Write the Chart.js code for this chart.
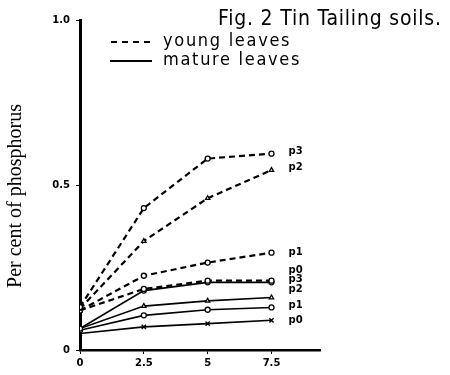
<!DOCTYPE html>
<html><head><meta charset="utf-8">
<script src="https://cdn.jsdelivr.net/npm/chart.js@4"></script>
<style>html,body{margin:0;padding:0;background:#fff}#wrap{width:450px;height:375px}</style>
</head><body><div id="wrap"><canvas id="c" width="450" height="375"></canvas></div>
<script>
const xValues = [0, 2.5, 5, 7.5];
const xTickLabels = ['0', '2.5', '5', '7.5'];
const yTickValues = [0, 0.5, 1.0];
const yTickLabels = ['0', '0.5', '1.0'];
const youngP3 = [0.13, 0.43, 0.58, 0.595];
const youngP2 = [0.125, 0.33, 0.46, 0.545];
const youngP1 = [0.12, 0.225, 0.265, 0.295];
const youngP0 = [0.12, 0.185, 0.21, 0.21];
const matureP3 = [0.065, 0.18, 0.205, 0.205];
const matureP2 = [0.065, 0.133, 0.149, 0.159];
const matureP1 = [0.06, 0.105, 0.122, 0.129];
const matureP0 = [0.05, 0.07, 0.08, 0.09];
const seriesNames = ['p3', 'p2', 'p1', 'p0', 'p3', 'p2', 'p1', 'p0'];
const titleText = 'Fig. 2 Tin Tailing soils.';
const legendLabels = ['young leaves', 'mature leaves'];
const yAxisTitle = 'Per cent of phosphorus';

function pts(arr){ return arr.map((v,i)=>({x:xValues[i], y:v})); }
function ds(arr, dashed, style){
  return {data: pts(arr), borderColor:'#000', backgroundColor:'#fff', borderWidth: dashed?2.2:1.6,
    borderDash: dashed?[6,4]:[], pointStyle: style, pointRadius: style==='crossRot'?3:2.5,
    pointBorderColor:'#000', pointBorderWidth:1.3, pointBackgroundColor:'#fff', tension:0};
}
const labelDy = [-2, -3, 0, -10, -3, -8, -2, 0];

const overlay = {
  id:'overlay',
  afterDraw(chart){
    const ctx = chart.ctx;
    ctx.save();
    ctx.fillStyle = '#000';
    ctx.strokeStyle = '#000';
    ctx.textBaseline = 'middle';
    ctx.textAlign = 'left';
    ctx.font = '21px "DejaVu Sans Condensed", "DejaVu Sans"';
    ctx.letterSpacing = '0.8px';
    ctx.fillText(titleText, 218, 20);
    ctx.font = '18px "DejaVu Sans Condensed", "DejaVu Sans"';
    ctx.letterSpacing = '1.7px';
    ctx.fillText(legendLabels[0], 163, 41);
    ctx.fillText(legendLabels[1], 163, 60);
    ctx.letterSpacing = '0px';
    ctx.lineWidth = 2;
    ctx.setLineDash([6,5]);
    ctx.beginPath(); ctx.moveTo(111,42); ctx.lineTo(150,42); ctx.stroke();
    ctx.setLineDash([]);
    ctx.lineWidth = 2.2;
    ctx.beginPath(); ctx.moveTo(110,61); ctx.lineTo(152,61); ctx.stroke();
    // y axis title
    ctx.save();
    ctx.translate(16, 196);
    ctx.rotate(-Math.PI/2);
    ctx.textAlign = 'center';
    ctx.font = '20px "Liberation Serif"';
    ctx.fillText(yAxisTitle, 0, 0);
    ctx.restore();
    ctx.font = 'bold 10px "DejaVu Sans"';
    chart.data.datasets.forEach((d,i)=>{
      const meta = chart.getDatasetMeta(i);
      const last = meta.data[meta.data.length-1];
      ctx.fillText(seriesNames[i], last.x + 17, last.y + labelDy[i]);
    });
    ctx.restore();
  }
};

new Chart(document.getElementById('c'), {
  type:'line',
  data:{ datasets:[
    ds(youngP3,true,'circle'), ds(youngP2,true,'triangle'), ds(youngP1,true,'circle'), ds(youngP0,true,'circle'),
    ds(matureP3,false,'circle'), ds(matureP2,false,'triangle'), ds(matureP1,false,'circle'), ds(matureP0,false,'crossRot')
  ]},
  options:{
    responsive:false, animation:false, devicePixelRatio:1,
    layout:{padding:{left:0, top:20, right:130, bottom:0}},
    plugins:{legend:{display:false}, tooltip:{enabled:false}, title:{display:false}},
    scales:{
      x:{type:'linear', min:0, max:9.4,
        afterBuildTicks(s){ s.ticks = xValues.map(v=>({value:v})); },
        afterFit(s){ s.height = 25; },
        ticks:{color:'#000', font:{family:'"DejaVu Sans"', weight:'bold', size:10}, padding:3,
          callback:(v,i)=>xTickLabels[i]},
        grid:{drawOnChartArea:false, drawTicks:true, tickLength:4, color:'#000'},
        border:{display:true, color:'#000', width:2.5}
      },
      y:{type:'linear', min:0, max:1.0,
        afterBuildTicks(s){ s.ticks = yTickValues.map(v=>({value:v})); },
        afterFit(s){ s.width = 80; },
        ticks:{color:'#000', font:{family:'"DejaVu Sans"', weight:'bold', size:10}, padding:6,
          callback:(v,i)=>yTickLabels[i]},
        grid:{drawOnChartArea:false, drawTicks:true, tickLength:4, color:'#000'},
        border:{display:true, color:'#000', width:3},
        title:{display:false}
      }
    }
  },
  plugins:[overlay]
});
</script></body></html>
